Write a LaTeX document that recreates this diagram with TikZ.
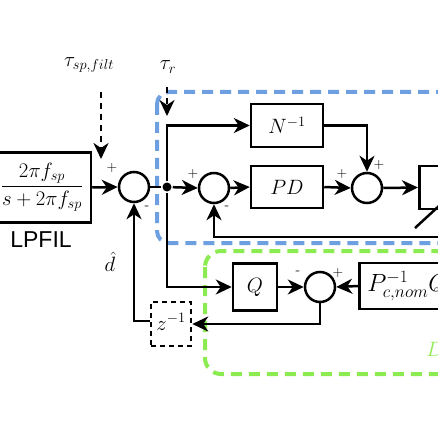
\documentclass[tikz,border=0pt]{standalone}
\usepackage{fontspec}
\setsansfont{Liberation Sans}
\usetikzlibrary{arrows.meta}
\definecolor{bluedash}{RGB}{110,160,225}
\definecolor{greendash}{RGB}{140,235,80}
\begin{document}
\begin{tikzpicture}[x=1pt,y=-1pt,
  line width=2.5pt,
  every node/.style={font=\fontsize{21}{24}\selectfont},
  blk/.style={draw, line width=2.5pt, inner sep=0pt},
  sumnode/.style={draw, circle, line width=2.5pt, minimum size=30pt, inner sep=0pt},
  sgn/.style={font=\fontsize{14}{15}\selectfont, inner sep=0pt},
  arr/.style={-{Stealth[length=16pt,width=15pt,inset=5pt]}},
  darr/.style={dashed, dash pattern=on 6pt off 5pt, -{Stealth[length=16pt,width=15pt,inset=5pt]}},
  grp/.style={line width=4pt, dash pattern=on 11pt off 7pt}
]
\useasboundingbox (0,0) rectangle (438,438);
\clip (0,0) rectangle (438,438);

% group frames
\draw[grp, bluedash, rounded corners=12pt] (157,92) rectangle (480,243);
\draw[grp, greendash, rounded corners=16pt] (205,251) rectangle (480,374);

% blocks
\node[blk, minimum width=98pt, minimum height=70pt] (lp) at (42,187.5) {$\displaystyle\frac{2\pi f_{sp}}{s+2\pi f_{sp}}$};
\node[font=\sffamily\fontsize{23}{26}\selectfont, inner sep=0pt] (lpl) at (41,240) {LPFIL};
\node[sumnode] (s1) at (134,187) {};
\node[sumnode] (s2) at (214,188) {};
\node[sumnode] (s3) at (367,188) {};
\node[sumnode] (s4) at (320,287) {};
\node[blk, minimum width=72pt, minimum height=43pt] (n) at (287,125.5) {$N^{-1}$};
\node[blk, minimum width=72pt, minimum height=42pt] (pd) at (287,187) {$PD$};
\node[blk, minimum width=80pt, minimum height=43pt, anchor=west] (pl) at (418,187.5) {};
\node[blk, minimum width=44pt, minimum height=47pt] (q) at (255,287) {$Q$};
\node[blk, minimum height=46pt, minimum width=110pt, anchor=west, inner xsep=8pt, inner ysep=0pt, align=left, text width=94pt, font=\fontsize{24}{26}\selectfont] (pq) at (358,286) {$P_{c,nom}^{-1}Q$};
\node[blk, dashed, dash pattern=on 5pt off 4pt, minimum width=40pt, minimum height=44pt] (z) at (171,324) {\raisebox{4pt}{$z^{-1}$}};

\node[fill=black, circle, inner sep=0pt, minimum size=9pt] (j) at (167,187) {};

% labels
\node[inner sep=0pt] (tsp) at (89,65) {$\tau_{sp,filt}$};
\node[inner sep=0pt] (tr) at (168,67) {$\tau_r$};
\node[inner sep=0pt] (dh) at (110,262) {$\hat{d}$};
\node[text=greendash, anchor=west, inner sep=0pt] (dob) at (425,349) {$DOB$};

% signs
\node[sgn] at (112,168) {+};
\node[sgn] at (147,208) {-};
\node[sgn] at (193,174) {+};
\node[sgn] at (227,208) {-};
\node[sgn] at (342,174) {+};
\node[sgn] at (379,165) {+};
\node[sgn] at (298,273) {-};
\node[sgn] at (338,273) {+};

% dashed inputs
\coordinate (a1) at (101,92);
\coordinate (a2) at (101,159);
\coordinate (b1) at (167,87);
\coordinate (b2) at (167,116);
\draw[darr] (a1) -- (a2);
\draw[darr] (b1) -- (b2);

% connectors
\draw[arr] (lp.east) -- (s1.west);
\draw (s1.east) -- (j);
\draw[arr] (j) -- (s2.west);
\draw[arr] (j) |- (n.west);
\draw[arr] (n.east) -| (s3.north);
\draw[arr] (s2.east) -- (pd.west);
\draw[arr] (pd.east) -- (s3.west);
\draw[arr] (s3.east) -- (pl.west);
\coordinate (fb) at (445,237);
\draw[arr] (fb) -| (s2.south);
\coordinate (d1) at (415,228);
\coordinate (d2) at (440,205);
\draw (d1) -- (d2);
\draw[arr] (j) |- (q.west);
\draw[arr] (q.east) -- (s4.west);
\draw[arr] (pq.west) -- (s4.east);
\draw[arr] (s4.south) |- (z.east);
\coordinate (zl) at (z.west |- 0,321);
\draw[arr] (zl) -| (s1.south);
\end{tikzpicture}
\end{document}
